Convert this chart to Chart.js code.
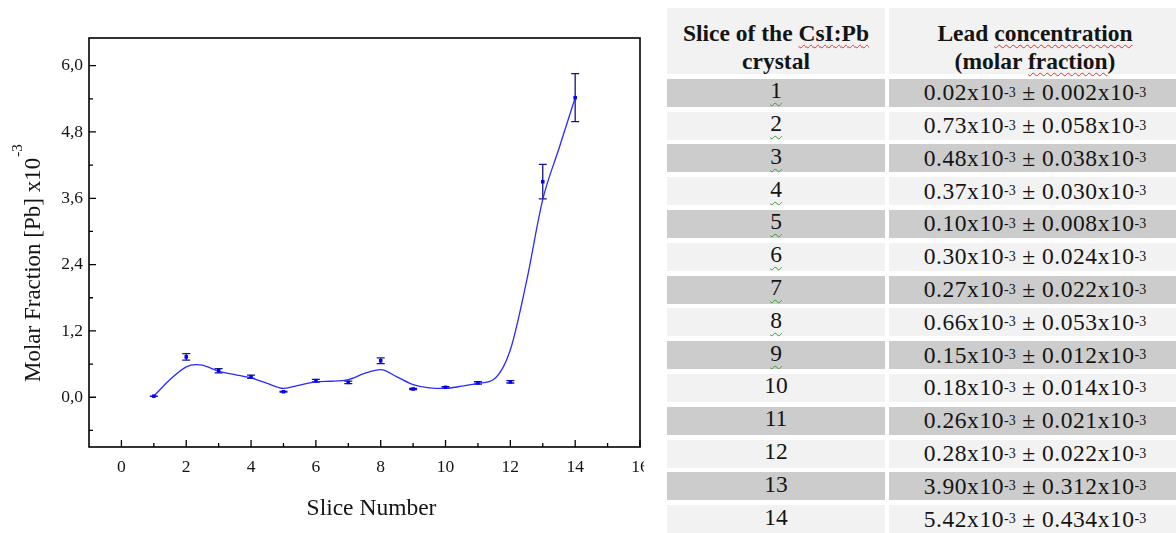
<!DOCTYPE html>
<html>
<head>
<meta charset="utf-8">
<script src="https://cdn.jsdelivr.net/npm/chart.js@4.4.1/dist/chart.umd.min.js"></script>
<style>
  html, body { margin:0; padding:0; background:#fff; width:1176px; height:533px; overflow:hidden; }
  #chartWrap { position:absolute; left:0; top:0; width:644px; height:533px; overflow:hidden; }
  #chartBox { position:relative; width:700px; height:533px; }
  #tbl { position:absolute; left:667px; top:8px; display:grid;
         grid-template-columns:218px 292px; grid-template-rows:66px repeat(14, 28px);
         column-gap:4px; row-gap:4.8px;
         font-family:"Liberation Serif","Times New Roman",serif; color:#141414; }
  .hd { background:#f2f2f2; font-weight:bold; font-size:23.5px; line-height:28px;
        text-align:center; padding-top:11px; box-sizing:border-box; height:66px; }
  .sp { text-decoration:underline wavy #e03030; text-decoration-thickness:1px; text-underline-offset:3px; }
  .cell { display:flex; align-items:center; justify-content:center; font-size:23.5px;
          box-sizing:border-box; white-space:nowrap; }
  .c1 { padding-bottom:4px; }
  .c2 { letter-spacing:0.55px; }
  .g { background:#cccccc; }
  .l { background:#f2f2f2; }
  .gr { text-decoration:underline wavy #3c9a3c; text-decoration-thickness:1px; text-underline-offset:4px; }
  sup { font-size:14px; vertical-align:9px; line-height:0; letter-spacing:0; }
</style>
</head>
<body>
<div id="chartWrap"><div id="chartBox"><canvas id="c"></canvas></div></div>
<div id="tbl">
  <div class="hd">Slice of the <span class="sp">CsI:Pb</span><br>crystal</div>
  <div class="hd">Lead <span class="sp">concentration</span><br>(molar <span class="sp">fraction</span>)</div>
</div>
<script>
// ---- data ----
const slices = [1, 2, 3, 4, 5, 6, 7, 8, 9, 10, 11, 12, 13, 14];
const molarFraction = [0.02, 0.73, 0.48, 0.37, 0.10, 0.30, 0.27, 0.66, 0.15, 0.18, 0.26, 0.28, 3.90, 5.42];
const molarError = [0.002, 0.058, 0.038, 0.030, 0.008, 0.024, 0.022, 0.053, 0.012, 0.014, 0.021, 0.022, 0.312, 0.434];
// smoothed curve
const fitSlices = [1, 1.5, 2, 2.3, 2.5, 3, 3.5, 4, 4.5, 5, 5.5, 6, 6.5, 7, 7.5, 8, 8.5, 9, 9.5, 10, 10.5, 11, 11.5, 12, 12.5, 13, 13.5, 14];
const fitValues = [0.02, 0.32, 0.55, 0.59, 0.58, 0.47, 0.41, 0.35, 0.25, 0.16, 0.22, 0.28, 0.29, 0.32, 0.43, 0.50, 0.37, 0.23, 0.17, 0.16, 0.20, 0.25, 0.33, 0.86, 2.10, 3.58, 4.50, 5.42];
const xTicks = [0, 2, 4, 6, 8, 10, 12, 14, 16];
const xMinorTicks = [1, 3, 5, 7, 9, 11, 13, 15];
const yTicks = [0, 1.2, 2.4, 3.6, 4.8, 6.0];
const yMinorTicks = [-0.6, 0.6, 1.8, 3.0, 4.2, 5.4];
const xTitle = "Slice Number";
const yTitle = "Molar Fraction [Pb] x10";
const yTitleSup = "-3";

// ---- table ----
const tbl = document.getElementById('tbl');
slices.forEach((s, i) => {
  const cls = i % 2 === 0 ? 'g' : 'l';
  const c1 = document.createElement('div');
  c1.className = 'cell c1 ' + cls;
  const lbl = String(s);
  c1.innerHTML = lbl.length === 1 ? '<span class="gr">' + lbl + '</span>' : lbl;
  const c2 = document.createElement('div');
  c2.className = 'cell c2 ' + cls;
  c2.innerHTML = molarFraction[i].toFixed(2) + 'x10<sup>-3</sup>&nbsp;±&nbsp;' +
                 molarError[i].toFixed(3) + 'x10<sup>-3</sup>';
  tbl.appendChild(c1); tbl.appendChild(c2);
});

// ---- chart ----
const FONT = '"Liberation Serif","Times New Roman",serif';

const errorBars = {
  id: 'errorBars',
  beforeDatasetsDraw(chart) {
    const { ctx, scales: { x, y } } = chart;
    ctx.save();
    ctx.strokeStyle = '#14148c';
    ctx.lineWidth = 1.3;
    slices.forEach((s, i) => {
      const px = x.getPixelForValue(s);
      const top = y.getPixelForValue(molarFraction[i] + molarError[i]);
      const bot = y.getPixelForValue(molarFraction[i] - molarError[i]);
      ctx.beginPath();
      ctx.moveTo(px, top); ctx.lineTo(px, bot);
      ctx.moveTo(px - 4, top); ctx.lineTo(px + 4, top);
      ctx.moveTo(px - 4, bot); ctx.lineTo(px + 4, bot);
      ctx.stroke();
    });
    ctx.restore();
  }
};

const frame = {
  id: 'frame',
  afterDraw(chart) {
    const { ctx, chartArea: a, scales: { x, y } } = chart;
    ctx.save();
    ctx.strokeStyle = '#000';
    ctx.lineWidth = 1.6;
    ctx.strokeRect(a.left, a.top, a.right - a.left, a.bottom - a.top);
    ctx.lineWidth = 1.3;
    ctx.beginPath();
    xTicks.forEach(v => { const p = x.getPixelForValue(v); ctx.moveTo(p, a.bottom); ctx.lineTo(p, a.bottom - 7); });
    xMinorTicks.forEach(v => { const p = x.getPixelForValue(v); ctx.moveTo(p, a.bottom); ctx.lineTo(p, a.bottom - 4); });
    yTicks.forEach(v => { const p = y.getPixelForValue(v); ctx.moveTo(a.left, p); ctx.lineTo(a.left + 7, p); });
    yMinorTicks.forEach(v => { const p = y.getPixelForValue(v); ctx.moveTo(a.left, p); ctx.lineTo(a.left + 4, p); });
    ctx.stroke();

    // axis titles
    ctx.fillStyle = '#141414';
    ctx.font = '23.5px ' + FONT;
    ctx.textAlign = 'center';
    ctx.textBaseline = 'middle';
    ctx.fillText(xTitle, (a.left + a.right) / 2 + 7, a.bottom + 62);

    ctx.translate(40, 0);
    ctx.rotate(-Math.PI / 2);
    ctx.textAlign = 'left';
    ctx.textBaseline = 'alphabetic';
    ctx.font = '23px ' + FONT;
    const w = ctx.measureText(yTitle).width;
    const startX = -(a.bottom - 65);
    ctx.fillText(yTitle, startX, 0);
    ctx.font = '15px ' + FONT;
    ctx.fillText(yTitleSup, startX + w + 1, -18);
    ctx.restore();
  }
};

new Chart(document.getElementById('c'), {
  data: {
    datasets: [
      {
        type: 'line',
        data: fitSlices.map((s, i) => ({ x: s, y: fitValues[i] })),
        borderColor: '#2a2aff',
        borderWidth: 1.3,
        pointRadius: 0,
        cubicInterpolationMode: 'monotone',
        fill: false,
        order: 2
      },
      {
        type: 'scatter',
        data: slices.map((s, i) => ({ x: s, y: molarFraction[i] })),
        pointStyle: 'rect',
        pointRadius: 2.5,
        backgroundColor: '#0000ff',
        borderColor: '#0000ff',
        borderWidth: 0,
        order: 1
      }
    ]
  },
  options: {
    responsive: true,
    maintainAspectRatio: false,
    animation: false,
    layout: { padding: { left: 0, top: 38, right: 60, bottom: 0 } },
    plugins: { legend: { display: false }, tooltip: { enabled: false } },
    scales: {
      x: {
        type: 'linear', min: -1, max: 16,
        afterBuildTicks: s => { s.ticks = xTicks.map(v => ({ value: v })); },
        afterFit: s => { s.height = 86; },
        grid: { display: false, drawTicks: false },
        border: { display: false },
        ticks: { padding: 10, color: '#141414', autoSkip: false, maxRotation: 0,
                 font: { family: FONT, size: 17.5 }, callback: v => String(v) }
      },
      y: {
        type: 'linear', min: -0.9, max: 6.5,
        afterBuildTicks: s => { s.ticks = yTicks.map(v => ({ value: v })); },
        afterFit: s => { s.width = 89; },
        grid: { display: false, drawTicks: false },
        border: { display: false },
        ticks: { padding: 6, color: '#141414',
                 font: { family: FONT, size: 17.5 }, callback: v => Number(v).toFixed(1).replace('.', ',') }
      }
    }
  },
  plugins: [errorBars, frame]
});
</script>
</body>
</html>
